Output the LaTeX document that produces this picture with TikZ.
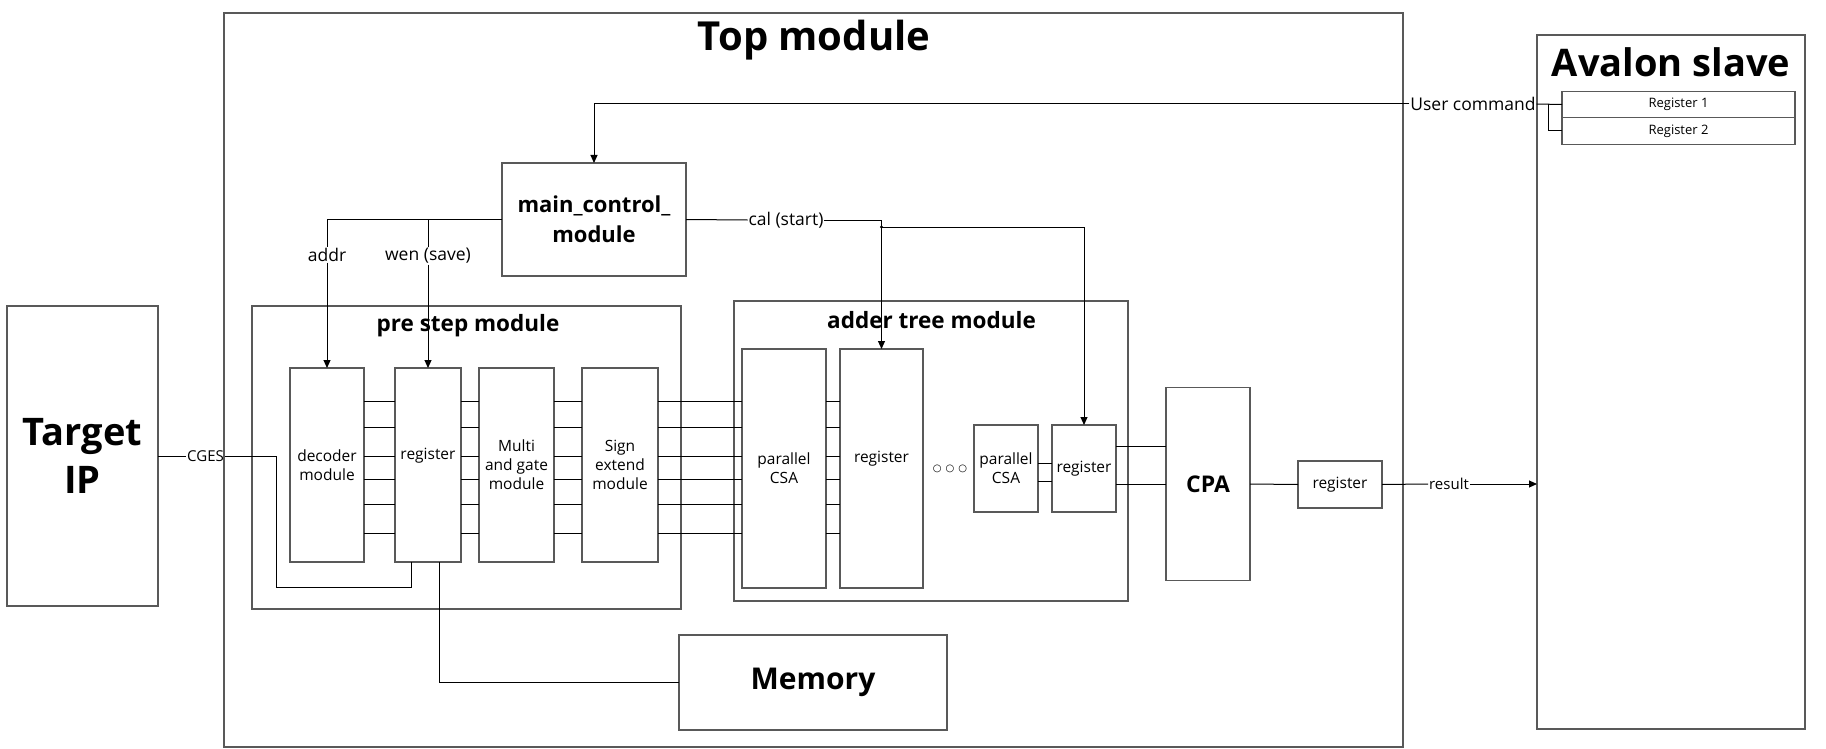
\documentclass[tikz,border=0pt]{standalone}
\usepackage{fontspec}
\setmainfont{Open Sans}
\newfontfamily\symfont{DejaVu Sans}
\usetikzlibrary{arrows.meta, positioning}

\newcommand{\setfs}[2]{\fontsize{#1pt}{#2pt}\selectfont}

\begin{document}
\begin{tikzpicture}[
  x=1pt, y=-1pt,
  every node/.style={inner sep=0pt, outer sep=0pt},
  frame/.style={rectangle, draw=black!65, line width=1.4pt},
  txt/.style={font=\setfs{15.5}{19}},
  blk/.style={frame, txt, align=center},
  ttl/.style={font=\bfseries\setfs{22.5}{28}},
  big/.style={font=\bfseries\setfs{38}{48}, align=center},
  sig/.style={font=\setfs{17.5}{20}, inner sep=1pt},
  wire/.style={line width=1pt},
  arr/.style={wire, -{Triangle[length=8pt,width=7pt]}}
]
\useasboundingbox (0,0) rectangle (1826,749);

% containers
\node[frame, minimum width=1179pt, minimum height=734pt] (top) at (813.5,380) {};
\node[big, font=\bfseries\setfs{40}{48}] (toptitle) at (814,40) {Top module};

\node[frame, minimum width=268pt, minimum height=694pt] (ava) at (1671,382) {};
\node[big] (avatitle) at (1671,62) {Avalon slave};
\node[frame, font=\setfs{13}{15}, minimum width=233pt, minimum height=26.5pt] (reg1) at (1678.5,104.5) {Register 1};
\node[frame, font=\setfs{13}{15}, minimum width=233pt, minimum height=26.5pt, below=0pt of reg1] (reg2) {Register 2};

\node[frame, big, minimum width=151pt, minimum height=300pt] (tip) at (82.5,456) {Target\\IP};

% pre step module
\node[frame, minimum width=429pt, minimum height=303pt] (pre) at (466.5,457.5) {};
\node[ttl] (pretitle) at (468,326) {pre step module};
\node[blk, minimum width=74pt, minimum height=194pt] (dec) at (327,465) {decoder\\module};
\node[blk, minimum width=66pt, minimum height=194pt,
      label={[txt, yshift=9pt]center:register}] (preg) at (428,465) {};
\node[blk, minimum width=75pt, minimum height=194pt] (mult) at (516.5,465) {Multi\\and gate\\module};
\node[blk, minimum width=76pt, minimum height=194pt] (sgn) at (620,465) {Sign\\extend\\module};

% adder tree module
\node[frame, minimum width=394pt, minimum height=300pt] (add) at (931,451) {};
\node[ttl] (addtitle) at (931.5,320.5) {adder tree module};
\node[blk, minimum width=84pt, minimum height=239pt] (csa) at (784,468.5) {parallel\\CSA};
\node[blk, minimum width=83pt, minimum height=239pt,
      label={[txt, yshift=9.5pt]center:register}] (areg) at (881.5,468.5) {};
\node[font=\symfont\setfs{10}{10}] (dots) at (950,469) {○\hspace{4pt}○\hspace{4pt}○};
\node[blk, minimum width=64pt, minimum height=87pt] (scsa) at (1006,468.5) {parallel\\CSA};
\node[blk, minimum width=64pt, minimum height=87pt] (sreg) at (1084,468.5) {register};

\node[blk, font=\bfseries\setfs{23}{28}, minimum width=84pt, minimum height=193pt] (cpa) at (1208,484) {CPA};
\node[blk, minimum width=84pt, minimum height=47pt] (freg) at (1340,484.5) {register};
\node[frame, font=\bfseries\setfs{30}{34}, minimum width=268pt, minimum height=95pt] (mem) at (813,682.5) {Memory};
\node[frame, align=center, font=\bfseries\setfs{22}{30}, minimum width=184pt, minimum height=113pt] (ctrl) at (594,219.5) {main\_control\_\\module};

% signal labels
\node[sig] (ucmd) at (1473,104) {User command};
\node[sig] (addr) at (327,255) {addr};
\node[sig] (wen) at (428,256) {wen (save)};
\node[sig] (cal) at (786,220) {cal (start)};
\node[sig, font=\setfs{15}{17}] (cges) at (205.5,456) {CGES};
\node[sig, font=\setfs{15}{17}] (res) at (1449,484) {result};

% data path
\foreach \a/\b in {dec/preg, preg/mult, mult/sgn, sgn/csa, csa/areg}
  \foreach \yy in {401,427,456,479,504,533}
    \draw[wire] (\a.east |- 0,\yy) -- (\b.west |- 0,\yy);
\foreach \yy in {463,481}
  \draw[wire] (scsa.east |- 0,\yy) -- (sreg.west |- 0,\yy);
\foreach \yy in {446,484}
  \draw[wire] (sreg.east |- 0,\yy) -- (cpa.west |- 0,\yy);
\draw[wire] (cpa.east) -- (freg.west);
\draw[wire] (freg.east) -- (res.west);
\draw[arr] (res.east) -- (res.east -| ava.west);

\draw[wire] (tip.east) -- (cges.west);
\coordinate (cgesbend) at (276,587);
\draw[wire] (cges.east) -| (cgesbend) -| ([xshift=-17pt]preg.south);
\draw[wire] ([xshift=11.5pt]preg.south) |- (mem.west);

% control
\draw[arr] (ucmd.west) -| (ctrl.north);
\draw[wire] (ucmd.east) -- (reg1.west);
\coordinate (regfork) at (1548,104);
\draw[wire] (regfork) |- (reg2.west);

\draw[wire] (ctrl.west) -| (addr.north);
\draw[arr] (addr.south) -- (dec.north);
\draw[wire] (ctrl.west -| wen.north) -- (wen.north);
\draw[arr] (wen.south) -- (preg.north);

\draw[wire] (ctrl.east) -- (cal.west);
\draw[arr] (cal.east) -| (areg.north);
\coordinate (calfork) at (areg.north |- 0,227);
\fill (calfork) circle (1.6pt);
\draw[arr] (calfork) -| (sreg.north);

\end{tikzpicture}
\end{document}
